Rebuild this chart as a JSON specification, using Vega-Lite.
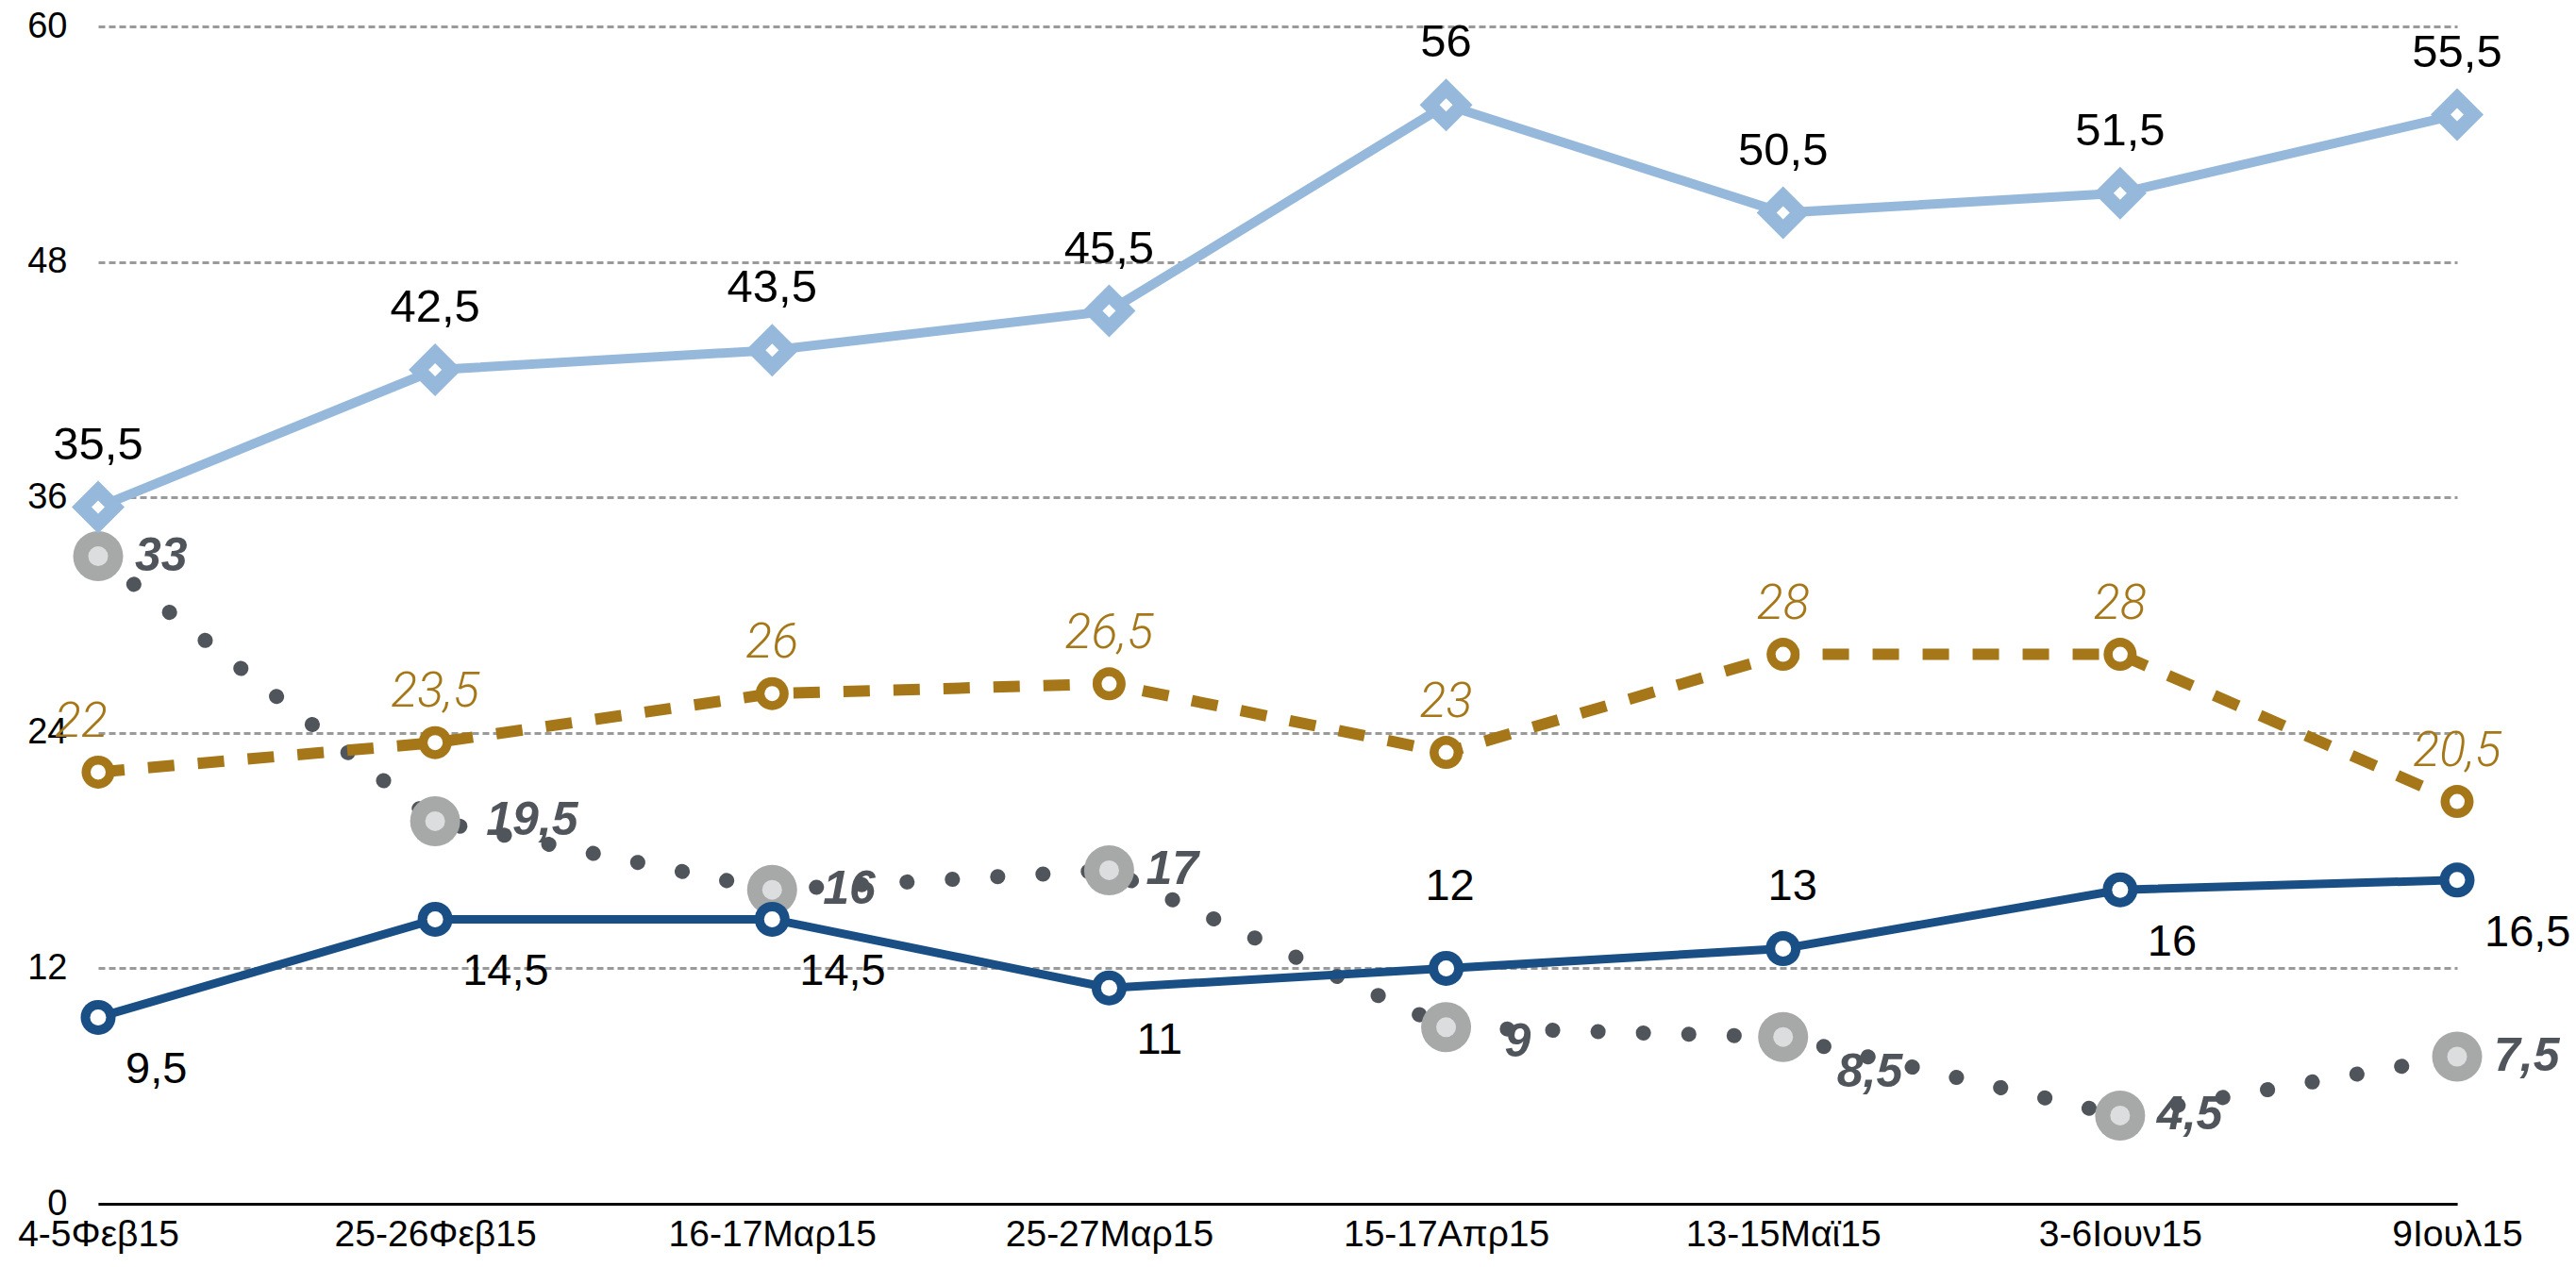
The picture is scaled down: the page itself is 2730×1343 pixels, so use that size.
{
  "$schema": "https://vega.github.io/schema/vega-lite/v6.json",
  "width": 2500,
  "height": 1248,
  "autosize": "none",
  "padding": {"left": 104, "top": 28, "right": 126, "bottom": 67},
  "background": "white",
  "config": {"view": {"stroke": null}, "font": "Liberation Sans"},
  "data": {"values": [
    {"series": "A", "date": "4-5Φεβ15", "value": 35.5},
    {"series": "A", "date": "25-26Φεβ15", "value": 42.5},
    {"series": "A", "date": "16-17Μαρ15", "value": 43.5},
    {"series": "A", "date": "25-27Μαρ15", "value": 45.5},
    {"series": "A", "date": "15-17Απρ15", "value": 56},
    {"series": "A", "date": "13-15Μαϊ15", "value": 50.5},
    {"series": "A", "date": "3-6Ιουν15", "value": 51.5},
    {"series": "A", "date": "9Ιουλ15", "value": 55.5},
    {"series": "B", "date": "4-5Φεβ15", "value": 22},
    {"series": "B", "date": "25-26Φεβ15", "value": 23.5},
    {"series": "B", "date": "16-17Μαρ15", "value": 26},
    {"series": "B", "date": "25-27Μαρ15", "value": 26.5},
    {"series": "B", "date": "15-17Απρ15", "value": 23},
    {"series": "B", "date": "13-15Μαϊ15", "value": 28},
    {"series": "B", "date": "3-6Ιουν15", "value": 28},
    {"series": "B", "date": "9Ιουλ15", "value": 20.5},
    {"series": "C", "date": "4-5Φεβ15", "value": 33},
    {"series": "C", "date": "25-26Φεβ15", "value": 19.5},
    {"series": "C", "date": "16-17Μαρ15", "value": 16},
    {"series": "C", "date": "25-27Μαρ15", "value": 17},
    {"series": "C", "date": "15-17Απρ15", "value": 9},
    {"series": "C", "date": "13-15Μαϊ15", "value": 8.5},
    {"series": "C", "date": "3-6Ιουν15", "value": 4.5},
    {"series": "C", "date": "9Ιουλ15", "value": 7.5},
    {"series": "D", "date": "4-5Φεβ15", "value": 9.5},
    {"series": "D", "date": "25-26Φεβ15", "value": 14.5},
    {"series": "D", "date": "16-17Μαρ15", "value": 14.5},
    {"series": "D", "date": "25-27Μαρ15", "value": 11},
    {"series": "D", "date": "15-17Απρ15", "value": 12},
    {"series": "D", "date": "13-15Μαϊ15", "value": 13},
    {"series": "D", "date": "3-6Ιουν15", "value": 16},
    {"series": "D", "date": "9Ιουλ15", "value": 16.5}
  ]},
  "transform": [{"calculate": "replace(toString(datum.value), '.', ',')", "as": "label"}],
  "encoding": {
    "x": {
      "field": "date", "type": "ordinal",
      "sort": ["4-5Φεβ15", "25-26Φεβ15", "16-17Μαρ15", "25-27Μαρ15", "15-17Απρ15", "13-15Μαϊ15", "3-6Ιουν15", "9Ιουλ15"],
      "scale": {"type": "point", "padding": 0},
      "axis": {
        "title": null, "labelAngle": 0, "ticks": false,
        "domain": true, "domainColor": "#000000", "domainWidth": 3,
        "labelFontSize": 39, "labelColor": "#000000", "labelPadding": 13,
        "labelFont": "Liberation Sans", "labelFlush": false, "labelOverlap": false, "labelLimit": 0
      }
    },
    "y": {
      "field": "value", "type": "quantitative",
      "scale": {"domain": [0, 60], "nice": false, "zero": true},
      "axis": {
        "title": null, "values": [0, 12, 24, 36, 48, 60], "ticks": false, "domain": false,
        "grid": true, "gridColor": "#9a9a9a", "gridDash": [7, 4], "gridWidth": 3,
        "labelFontSize": 38, "labelColor": "#000000", "labelPadding": 33,
        "labelFont": "Liberation Sans", "labelLimit": 0
      }
    }
  },
  "layer": [
    {"transform": [{"filter": "datum.series == 'C'"}],
     "mark": {"type": "line", "color": "#50555C", "strokeWidth": 16, "strokeCap": "round", "strokeDash": [0.1, 48]}},
    {"transform": [{"filter": "datum.series == 'C'"}],
     "mark": {"type": "point", "shape": "circle", "filled": true, "opacity": 1, "size": 2809, "color": "#A7A9A8"}},
    {"transform": [{"filter": "datum.series == 'C'"}],
     "mark": {"type": "point", "shape": "circle", "filled": true, "opacity": 1, "size": 441, "color": "#DCDDDE"}},

    {"transform": [{"filter": "datum.series == 'B'"}],
     "mark": {"type": "line", "color": "#A57718", "strokeWidth": 12, "strokeDash": [28, 25]}},
    {"transform": [{"filter": "datum.series == 'B'"}],
     "mark": {"type": "point", "shape": "circle", "filled": true, "opacity": 1, "size": 1225, "color": "#A57718"}},
    {"transform": [{"filter": "datum.series == 'B'"}],
     "mark": {"type": "point", "shape": "circle", "filled": true, "opacity": 1, "size": 256, "color": "#FFFFFF"}},

    {"transform": [{"filter": "datum.series == 'D'"}],
     "mark": {"type": "line", "color": "#1A4F86", "strokeWidth": 9}},
    {"transform": [{"filter": "datum.series == 'D'"}],
     "mark": {"type": "point", "shape": "circle", "filled": true, "opacity": 1, "size": 1369, "color": "#1A4F86"}},
    {"transform": [{"filter": "datum.series == 'D'"}],
     "mark": {"type": "point", "shape": "circle", "filled": true, "opacity": 1, "size": 289, "color": "#FFFFFF"}},

    {"transform": [{"filter": "datum.series == 'A'"}],
     "mark": {"type": "line", "color": "#96B9DB", "strokeWidth": 10}},
    {"transform": [{"filter": "datum.series == 'A'"}],
     "mark": {"type": "point", "shape": "diamond", "filled": true, "opacity": 1, "size": 3136, "color": "#96B9DB"}},
    {"transform": [{"filter": "datum.series == 'A'"}],
     "mark": {"type": "point", "shape": "diamond", "filled": true, "opacity": 1, "size": 196, "color": "#FFFFFF"}},

    {"transform": [{"filter": "datum.series == 'A'"}],
     "mark": {"type": "text", "align": "center", "baseline": "middle", "dy": -66, "fontSize": 49, "color": "#000000"},
     "encoding": {"text": {"field": "label"}}},

    {"transform": [{"filter": "datum.series == 'B' && datum.date == '4-5Φεβ15'"}],
     "mark": {"type": "text", "align": "center", "baseline": "middle", "dx": -18, "dy": -53, "fontSize": 52, "font": "Roboto", "fontWeight": 300, "fontStyle": "italic", "color": "#A57718"},
     "encoding": {"text": {"field": "label"}}},
    {"transform": [{"filter": "datum.series == 'B' && datum.date != '4-5Φεβ15'"}],
     "mark": {"type": "text", "align": "center", "baseline": "middle", "dy": -54, "fontSize": 52, "font": "Roboto", "fontWeight": 300, "fontStyle": "italic", "color": "#A57718"},
     "encoding": {"text": {"field": "label"}}},

    {"transform": [{"filter": {"and": [{"field": "series", "equal": "C"}, {"field": "date", "oneOf": ["4-5Φεβ15", "25-27Μαρ15", "3-6Ιουν15", "9Ιουλ15"]}]}}],
     "mark": {"type": "text", "align": "left", "baseline": "middle", "dx": 39, "fontSize": 50, "fontWeight": "bold", "fontStyle": "italic", "color": "#50555C"},
     "encoding": {"text": {"field": "label"}}},
    {"transform": [{"filter": {"and": [{"field": "series", "equal": "C"}, {"field": "date", "oneOf": ["25-26Φεβ15", "16-17Μαρ15"]}]}}],
     "mark": {"type": "text", "align": "left", "baseline": "middle", "dx": 54, "fontSize": 50, "fontWeight": "bold", "fontStyle": "italic", "color": "#50555C"},
     "encoding": {"text": {"field": "label"}}},
    {"transform": [{"filter": {"and": [{"field": "series", "equal": "C"}, {"field": "date", "equal": "15-17Απρ15"}]}}],
     "mark": {"type": "text", "align": "left", "baseline": "middle", "dx": 62, "dy": 16, "fontSize": 50, "fontWeight": "bold", "fontStyle": "italic", "color": "#50555C"},
     "encoding": {"text": {"field": "label"}}},
    {"transform": [{"filter": {"and": [{"field": "series", "equal": "C"}, {"field": "date", "equal": "13-15Μαϊ15"}]}}],
     "mark": {"type": "text", "align": "left", "baseline": "middle", "dx": 57, "dy": 38, "fontSize": 50, "fontWeight": "bold", "fontStyle": "italic", "color": "#50555C"},
     "encoding": {"text": {"field": "label"}}},

    {"transform": [{"filter": {"and": [{"field": "series", "equal": "D"}, {"field": "date", "oneOf": ["4-5Φεβ15", "25-26Φεβ15", "16-17Μαρ15", "25-27Μαρ15", "3-6Ιουν15", "9Ιουλ15"]}]}}],
     "mark": {"type": "text", "align": "left", "baseline": "middle", "dx": 29, "dy": 56, "fontSize": 47, "color": "#000000"},
     "encoding": {"text": {"field": "label"}}},
    {"transform": [{"filter": {"and": [{"field": "series", "equal": "D"}, {"field": "date", "equal": "15-17Απρ15"}]}}],
     "mark": {"type": "text", "align": "center", "baseline": "middle", "dx": 4, "dy": -86, "fontSize": 47, "color": "#000000"},
     "encoding": {"text": {"field": "label"}}},
    {"transform": [{"filter": {"and": [{"field": "series", "equal": "D"}, {"field": "date", "equal": "13-15Μαϊ15"}]}}],
     "mark": {"type": "text", "align": "center", "baseline": "middle", "dx": 10, "dy": -66, "fontSize": 47, "color": "#000000"},
     "encoding": {"text": {"field": "label"}}}
  ]
}
